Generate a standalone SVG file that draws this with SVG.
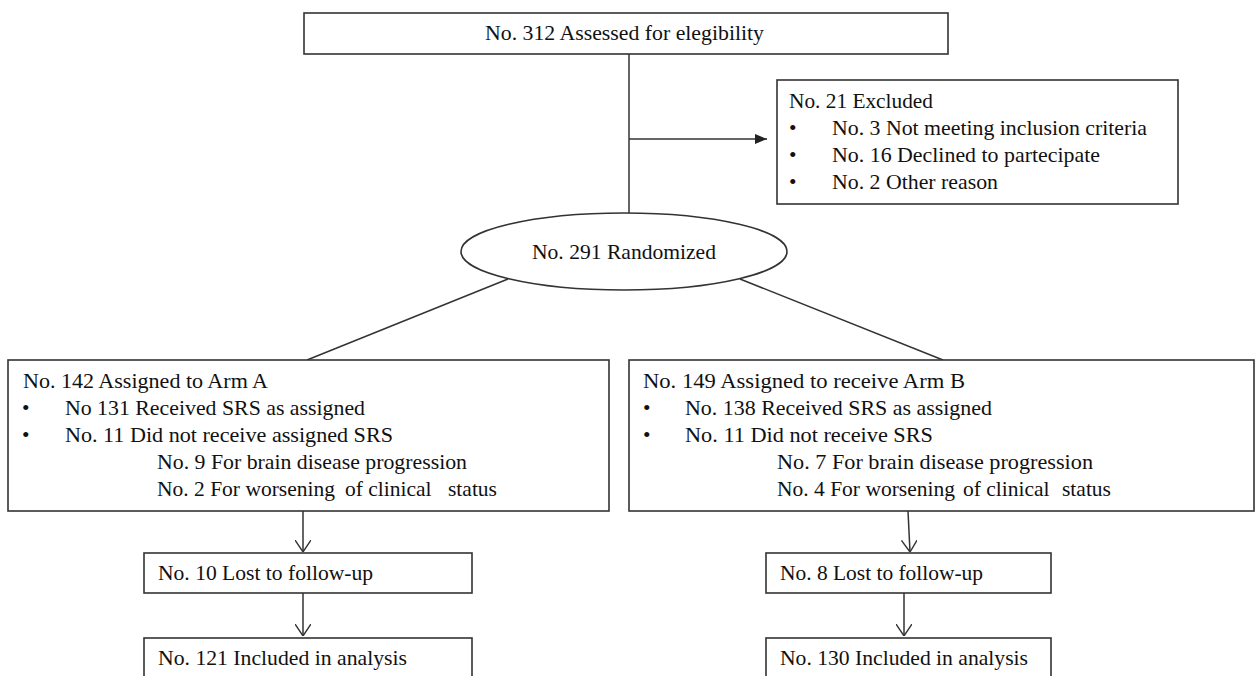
<svg xmlns="http://www.w3.org/2000/svg" width="1255" height="676" viewBox="0 0 1255 676">
<defs>
<style>
.box{fill:#fff;stroke:#333;stroke-width:1.6}
.ln{fill:none;stroke:#333;stroke-width:1.5}
text{font-family:"Liberation Serif","Times New Roman",serif;font-size:21.5px;fill:#111}
</style>
<marker id="tri" viewBox="0 0 12 10" refX="12" refY="5" markerWidth="12" markerHeight="10" markerUnits="userSpaceOnUse" orient="auto">
<path d="M0,0 L12,5 L0,10 Z" fill="#222"/>
</marker>
<marker id="vee" viewBox="0 0 12 16" refX="12" refY="8" markerWidth="12" markerHeight="16" markerUnits="userSpaceOnUse" orient="auto">
<path d="M0,0 L12,8 L0,16" fill="none" stroke="#333" stroke-width="1.4"/>
</marker>
</defs>
<rect width="1255" height="676" fill="#fff"/>
<g id="connectors">
<line class="ln" x1="629" y1="54" x2="629" y2="213"/>
<line class="ln" x1="629" y1="139" x2="767" y2="139" marker-end="url(#tri)"/>
<line class="ln" x1="508" y1="279" x2="307" y2="360"/>
<line class="ln" x1="740" y1="279" x2="943" y2="360"/>
<line class="ln" x1="303" y1="511" x2="303" y2="552" marker-end="url(#vee)"/>
<line class="ln" x1="303" y1="593" x2="303" y2="636" marker-end="url(#vee)"/>
<line class="ln" x1="908" y1="511" x2="910" y2="552" marker-end="url(#vee)"/>
<line class="ln" x1="904" y1="593" x2="904" y2="636" marker-end="url(#vee)"/>
</g>
<g id="assessed">
<rect class="box" x="304" y="13" width="644" height="41"/>
<text x="485" y="40" textLength="279" lengthAdjust="spacingAndGlyphs">No. 312 Assessed for elegibility</text>
</g>
<g id="excluded">
<rect class="box" x="777" y="80" width="401" height="124"/>
<text x="789" y="108" textLength="144" lengthAdjust="spacingAndGlyphs">No. 21 Excluded</text>
<text x="789" y="135">•</text><text x="832" y="135" textLength="315" lengthAdjust="spacingAndGlyphs">No. 3 Not meeting inclusion criteria</text>
<text x="789" y="162">•</text><text x="832" y="162" textLength="268" lengthAdjust="spacingAndGlyphs">No. 16 Declined to partecipate</text>
<text x="789" y="189">•</text><text x="832" y="189" textLength="166" lengthAdjust="spacingAndGlyphs">No. 2 Other reason</text>
</g>
<g id="randomized">
<ellipse class="box" cx="624" cy="251.5" rx="163" ry="38.5"/>
<text x="532" y="259" textLength="184" lengthAdjust="spacingAndGlyphs">No. 291 Randomized</text>
</g>
<g id="armA">
<rect class="box" x="8" y="360" width="601" height="151"/>
<text x="23" y="388" textLength="245" lengthAdjust="spacingAndGlyphs">No. 142 Assigned to Arm A</text>
<text x="22" y="415">•</text><text x="65" y="415" textLength="300" lengthAdjust="spacingAndGlyphs">No 131 Received SRS as assigned</text>
<text x="22" y="442">•</text><text x="65" y="442" textLength="328" lengthAdjust="spacingAndGlyphs">No. 11 Did not receive assigned SRS</text>
<text x="157" y="469" textLength="310" lengthAdjust="spacingAndGlyphs">No. 9 For brain disease progression</text>
<text x="157" y="496">No. 2 For worsening <tspan x="345">of clinical</tspan> <tspan x="448">status</tspan></text>
</g>
<g id="armB">
<rect class="box" x="629" y="360" width="625" height="151"/>
<text x="643" y="388" textLength="322" lengthAdjust="spacingAndGlyphs">No. 149 Assigned to receive Arm B</text>
<text x="643" y="415">•</text><text x="685" y="415" textLength="307" lengthAdjust="spacingAndGlyphs">No. 138 Received SRS as assigned</text>
<text x="643" y="442">•</text><text x="685" y="442" textLength="248" lengthAdjust="spacingAndGlyphs">No. 11 Did not receive SRS</text>
<text x="777" y="469" textLength="316" lengthAdjust="spacingAndGlyphs">No. 7 For brain disease progression</text>
<text x="777" y="496">No. 4 For worsening <tspan x="963">of clinical</tspan> <tspan x="1062">status</tspan></text>
</g>
<g id="lostA">
<rect class="box" x="144" y="553" width="328" height="40"/>
<text x="158" y="580" textLength="215" lengthAdjust="spacingAndGlyphs">No. 10 Lost to follow-up</text>
</g>
<g id="inclA">
<rect class="box" x="144" y="638" width="328" height="50"/>
<text x="158" y="665" textLength="249" lengthAdjust="spacingAndGlyphs">No. 121 Included in analysis</text>
</g>
<g id="lostB">
<rect class="box" x="766" y="553" width="285" height="40"/>
<text x="780" y="580" textLength="203" lengthAdjust="spacingAndGlyphs">No. 8 Lost to follow-up</text>
</g>
<g id="inclB">
<rect class="box" x="766" y="638" width="285" height="50"/>
<text x="780" y="665" textLength="248" lengthAdjust="spacingAndGlyphs">No. 130 Included in analysis</text>
</g>
</svg>
